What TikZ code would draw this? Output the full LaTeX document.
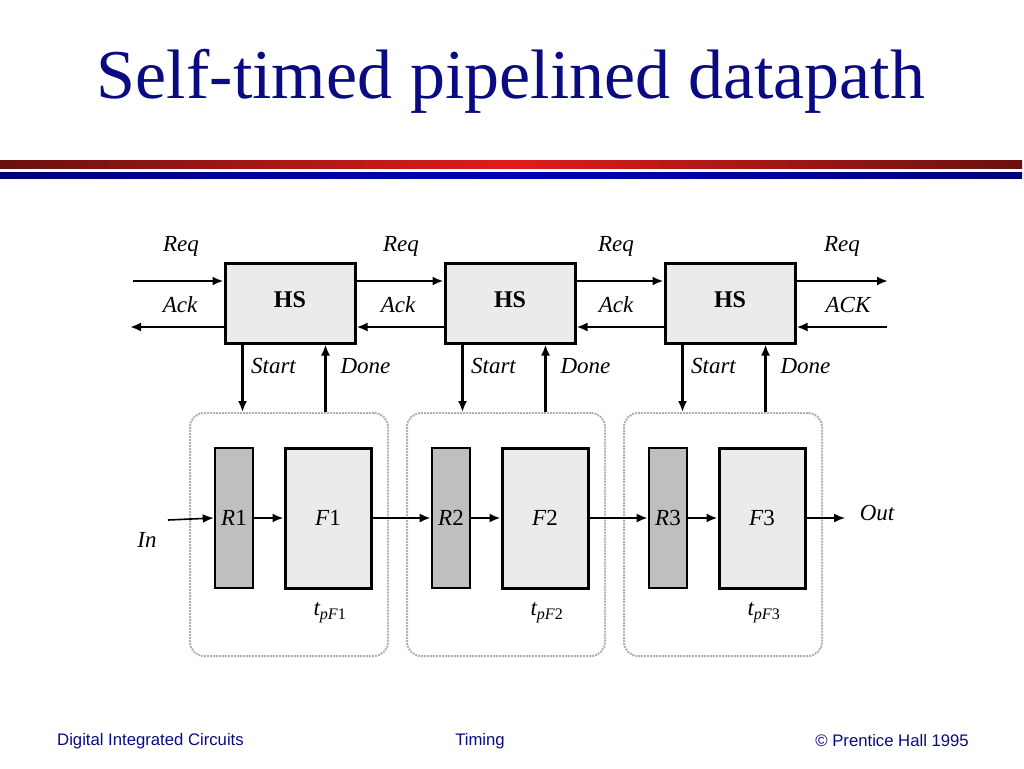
\documentclass[tikz,border=0pt]{standalone}
\usepackage{fontspec}
\setmainfont{Liberation Serif}
\newfontfamily\footfont{Liberation Sans}
\usetikzlibrary{arrows, arrows.meta, positioning}
\definecolor{titleblue}{HTML}{0A0A82}
\definecolor{barred}{HTML}{E01C1C}
\definecolor{bardark}{HTML}{6A1010}
\definecolor{barblue}{HTML}{0000B8}
\definecolor{barnavy}{HTML}{00007A}
\tikzset{
	x=1pt, y=-1pt, % pixel-like coordinates, y grows downwards
	>={Latex[length=11pt,width=9pt]}, % filled triangular arrow heads
	sig/.style={font=\fontsize{23}{26}\selectfont\itshape}, % signal labels
	foot/.style={inner sep=0pt, font=\footfont\fontsize{16.7}{19}\selectfont, text=titleblue},
	wire/.style={->, line width=2.4pt}, % thick connectors
	thinwire/.style={->, line width=1.6pt},
	hsbox/.style={draw, line width=3pt, fill=gray!16, minimum width=130pt, minimum height=80pt, font=\fontsize{24}{27}\selectfont\bfseries},
	regbox/.style={draw, line width=2.6pt, fill=gray!50, minimum width=38pt, minimum height=140pt, inner sep=0pt, font=\fontsize{23}{26}\selectfont},
	funcbox/.style={draw, line width=3pt, fill=gray!16, minimum width=86pt, minimum height=140pt, inner sep=0pt, font=\fontsize{23}{26}\selectfont},
	stagebox/.style={draw=gray!60, densely dotted, line width=2pt, rounded corners=14pt, minimum width=198pt, minimum height=243pt},
}

\begin{document}
\begin{tikzpicture}
	\useasboundingbox (0,0) rectangle (1024,768);
	% title and bars
	\node[font=\fontsize{70}{80}\selectfont, text=titleblue, anchor=base] (title) at (511,98) {Self-timed pipelined datapath};
	\shade[left color=bardark, right color=bardark, middle color=barred] (0,160) rectangle (1022,168);
	\shade[left color=barnavy, right color=barnavy, middle color=barblue] (0,172) rectangle (1022,178);
	% stages
	\foreach \i/\hx/\cx in {1/290/289, 2/510/506, 3/730/723}{
		\node[stagebox] (st\i) at (\cx,534.5) {};
		\node[hsbox, text depth=6pt] (hs\i) at (\hx,303) {HS};
		\node[regbox] (r\i) at (\cx-55,518) {\textit{R}\i};
		\node[funcbox] (f\i) at (\cx+39,518) {\textit{F}\i};
		\node[sig] (tp\i) at (\cx+41,613) {\textit{t}\textsubscript{\textit{pF}\textup{\i}}};
		\coordinate (s\i) at ([xshift=19pt]hs\i.south west);
		\coordinate (d\i) at ([xshift=102pt]hs\i.south west);
		\draw[wire] (s\i) -- (s\i |- st\i.north);
		\draw[wire] (d\i |- st\i.north) -- (d\i);
		\draw[wire] (r\i) -- (f\i);
		\node[sig] at ([xshift=50pt]hs\i.south west |- 0,366) {Start};
		\node[sig] at ([xshift=142pt]hs\i.south west |- 0,366) {Done};
	}
	% handshake chain
	\coordinate (reqin) at (133,281);
	\coordinate (ackout) at (130,327);
	\coordinate (reqout) at (888,281);
	\coordinate (ackin) at (887,327);
	\draw[wire] (reqin) -- (reqin -| hs1.west);
	\draw[wire] (ackout -| hs1.west) -- (ackout);
	\draw[wire] ([yshift=22pt]hs1.east) -- ([yshift=22pt]hs2.west);
	\draw[wire] ([yshift=-24pt]hs2.west) -- ([yshift=-24pt]hs1.east);
	\draw[wire] ([yshift=22pt]hs2.east) -- ([yshift=22pt]hs3.west);
	\draw[wire] ([yshift=-24pt]hs3.west) -- ([yshift=-24pt]hs2.east);
	\draw[wire] (reqout -| hs3.east) -- (reqout);
	\draw[wire] (ackin) -- (ackin -| hs3.east);
	\node[sig] at (181,246) {Req};
	\node[sig] at (180,305) {Ack};
	\node[sig] at (401,246) {Req};
	\node[sig] at (398,305) {Ack};
	\node[sig] at (616,246) {Req};
	\node[sig] at (616,305) {Ack};
	\node[sig] at (842,246) {Req};
	\node[sig] at (848,305) {ACK};
	% datapath
	\coordinate (datain) at (168,520);
	\coordinate (dataout) at (845,518);
	\draw[thinwire] (datain) -- (r1.west);
	\draw[wire] (f1) -- (r2);
	\draw[wire] (f2) -- (r3);
	\draw[thinwire] (f3.east) -- (dataout);
	\node[sig] at (147,540) {In};
	\node[sig] at (877,513) {Out};
	% footer
	\node[foot, anchor=west] at (57,741) {Digital Integrated Circuits};
	\node[foot] at (480,741) {Timing};
	\node[foot, anchor=east] at (969,741) {© Prentice Hall 1995};
\end{tikzpicture}
\end{document}
